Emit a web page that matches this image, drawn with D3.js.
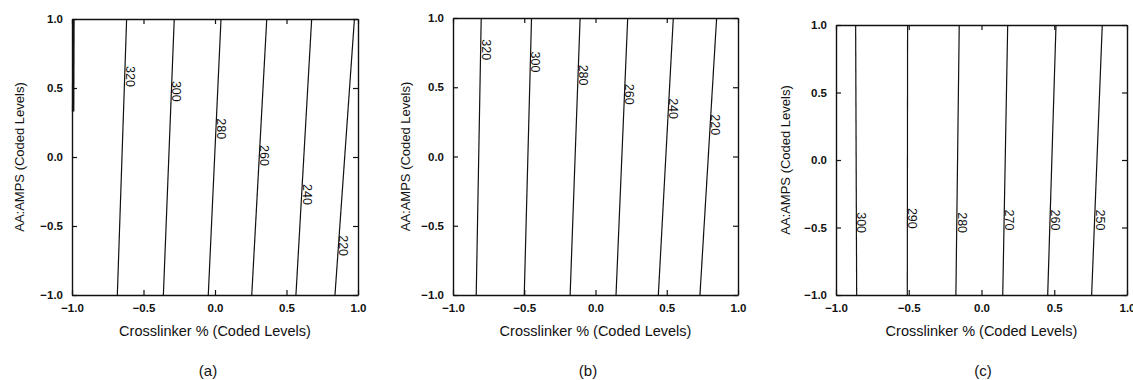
<!DOCTYPE html>
<html>
<head>
<meta charset="utf-8">
<script src="https://cdn.jsdelivr.net/npm/d3@7"></script>
<style>
  body { margin: 0; background: #fff; }
  svg { display: block; font-family: "Liberation Sans", Arial, sans-serif; }
</style>
</head>
<body>
<div id="chart"></div>
<script>
// tick values shared by all three panels
const tickValues = [-1.0, -0.5, 0.0, 0.5, 1.0];
const xTitle = "Crosslinker % (Coded Levels)";
const yTitle = "AA:AMPS (Coded Levels)";

// (a) contour levels, x where each contour meets y=-1 and y=1, y of label centre
const levelsA = [320, 300, 280, 260, 240, 220];
const xBottomA = [-0.683, -0.361, -0.047, 0.257, 0.566, 0.839];
const xTopA = [-0.618, -0.285, 0.042, 0.362, 0.676, 0.975];
const labelYA = [0.583, 0.476, 0.205, 0.011, -0.272, -0.642];
// unlabelled contour hugging the left edge of (a): [x, y] pairs
const edgeContourA = [[-0.992, 0.33], [-0.99, 1.0]];

// (b)
const levelsB = [320, 300, 280, 260, 240, 220];
const xBottomB = [-0.837, -0.500, -0.178, 0.144, 0.441, 0.733];
const xTopB = [-0.802, -0.449, -0.108, 0.226, 0.546, 0.850];
const labelYB = [0.771, 0.682, 0.588, 0.450, 0.346, 0.229];

// (c)
const levelsC = [300, 290, 280, 270, 260, 250];
const xBottomC = [-0.858, -0.510, -0.176, 0.146, 0.455, 0.757];
const xTopC = [-0.865, -0.508, -0.153, 0.180, 0.512, 0.830];
const labelYC = [-0.464, -0.432, -0.464, -0.444, -0.444, -0.444];

const panels = [
  { id: "a", levels: levelsA, xb: xBottomA, xt: xTopA, ly: labelYA, edge: edgeContourA,
    left: 72, right: 358, top: 19, bottom: 295, titleX: 20, capX: 208 },
  { id: "b", levels: levelsB, xb: xBottomB, xt: xTopB, ly: labelYB, edge: null,
    left: 453, right: 738, top: 18, bottom: 295, titleX: 406, capX: 588 },
  { id: "c", levels: levelsC, xb: xBottomC, xt: xTopC, ly: labelYC, edge: null,
    left: 836, right: 1127, top: 25, bottom: 295, titleX: 786, capX: 983 }
];

const svg = d3.select("#chart").append("svg")
  .attr("width", 1133)
  .attr("height", 380);

svg.append("rect").attr("width", 1133).attr("height", 380).attr("fill", "#fff");

const fmt = d => (d < 0 ? "\u2212" : "") + Math.abs(d).toFixed(1);

panels.forEach(p => {
  const x = d3.scaleLinear().domain([-1, 1]).range([p.left, p.right]);
  const y = d3.scaleLinear().domain([-1, 1]).range([p.bottom, p.top]);
  const g = svg.append("g").attr("class", "panel-" + p.id);
  const w = p.right - p.left, h = p.bottom - p.top;

  // axes, ticks point inwards on all four sides
  const tickLen = 5;
  g.append("g").attr("transform", `translate(0,${p.bottom})`)
    .call(d3.axisBottom(x).tickValues(tickValues).tickSizeInner(-tickLen).tickSizeOuter(0).tickPadding(9).tickFormat(fmt));
  g.append("g").attr("transform", `translate(${p.left},0)`)
    .call(d3.axisLeft(y).tickValues(tickValues).tickSizeInner(-tickLen).tickSizeOuter(0).tickPadding(9).tickFormat(fmt));
  g.append("g").attr("transform", `translate(0,${p.top})`)
    .call(d3.axisTop(x).tickValues(tickValues).tickSizeInner(-tickLen).tickSizeOuter(0).tickFormat(""));
  g.append("g").attr("transform", `translate(${p.right},0)`)
    .call(d3.axisRight(y).tickValues(tickValues).tickSizeInner(-tickLen).tickSizeOuter(0).tickFormat(""));

  g.selectAll(".domain").attr("stroke", "#111").attr("stroke-width", 1.4);
  g.selectAll(".tick line").attr("stroke", "#111").attr("stroke-width", 1.2);
  g.selectAll(".tick text").attr("fill", "#111").style("font-size", "11.5px").style("font-weight", "bold");

  // contour lines
  const line = d3.line().x(d => x(d[0])).y(d => y(d[1]));
  p.levels.forEach((lev, i) => {
    g.append("path")
      .attr("d", line([[p.xb[i], -1], [p.xt[i], 1]]))
      .attr("fill", "none")
      .attr("stroke", "#111")
      .attr("stroke-width", 1.2);

    // label sits on the line, rotated to read downwards
    const t = (p.ly[i] + 1) / 2;
    const lx = p.xb[i] + (p.xt[i] - p.xb[i]) * t;
    g.append("text")
      .attr("transform", `translate(${x(lx) + 1},${y(p.ly[i])}) rotate(90)`)
      .attr("text-anchor", "middle")
      .attr("fill", "#111")
      .style("font-size", "12.5px")
      .text(lev);
  });

  if (p.edge) {
    g.append("path")
      .attr("d", line(p.edge))
      .attr("fill", "none")
      .attr("stroke", "#111")
      .attr("stroke-width", 2.5);
  }

  // axis titles
  g.append("text")
    .attr("x", p.left + w / 2)
    .attr("y", 336)
    .attr("text-anchor", "middle")
    .attr("fill", "#111")
    .style("font-size", "14.5px")
    .text(xTitle);

  g.append("text")
    .attr("transform", `translate(${p.titleX + 4},${p.top + h / 2}) rotate(-90)`)
    .attr("text-anchor", "middle")
    .attr("fill", "#111")
    .style("font-size", "13px")
    .text(yTitle);

  // panel caption
  g.append("text")
    .attr("x", p.capX)
    .attr("y", 376)
    .attr("text-anchor", "middle")
    .attr("fill", "#111")
    .style("font-size", "15px")
    .text("(" + p.id + ")");
});
</script>
</body>
</html>
